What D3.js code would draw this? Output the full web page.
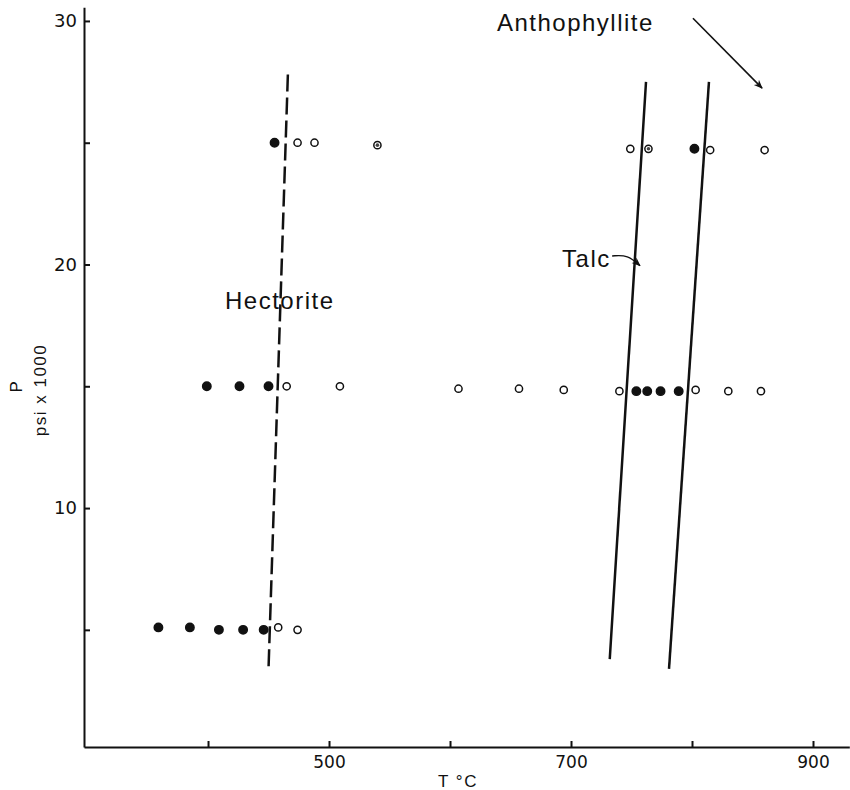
<!DOCTYPE html>
<html>
<head>
<meta charset="utf-8">
<script src="https://cdn.jsdelivr.net/npm/d3@7"></script>
<style>
  body { margin: 0; background: #fff; }
  svg { display: block; }
  .tick text { font-family: "DejaVu Sans", sans-serif; fill: #111; }
  .lbl { font-family: "Liberation Sans", Arial, sans-serif; fill: #111; letter-spacing: 1.5px; }
</style>
</head>
<body>
<svg id="chart" width="850" height="790"></svg>
<script>
// axis ticks
const tempTicks = [400, 500, 600, 700, 800, 900];
const tempLabels = [500, 700, 900];
const pTicks = [5, 10, 15, 20, 25, 30];
const pLabels = [10, 20, 30];

// runs: temperature (C), pressure (psi x 1000), result f = reacted, o = not, p = partial
const runT = [455, 474, 488, 540,
              749, 764, 802, 815, 860,
              399, 426, 450, 465, 509, 607, 657, 694,
              740, 754, 763, 774, 789, 803, 830, 857,
              359, 385, 409, 429, 446, 458, 474];
const runP = [25.0, 25.0, 25.0, 24.9,
              24.75, 24.75, 24.75, 24.7, 24.7,
              15.0, 15.0, 15.0, 15.0, 15.0, 14.9, 14.9, 14.85,
              14.8, 14.8, 14.8, 14.8, 14.8, 14.85, 14.8, 14.8,
              5.1, 5.1, 5.0, 5.0, 5.0, 5.1, 5.0];
const runResult = ['f', 'o', 'o', 'p',
                   'o', 'p', 'f', 'o', 'o',
                   'f', 'f', 'f', 'o', 'o', 'o', 'o', 'o',
                   'o', 'f', 'f', 'f', 'f', 'o', 'o', 'o',
                   'f', 'f', 'f', 'f', 'f', 'o', 'o'];

// boundary curves
const hectoriteT = [466, 450];
const hectoriteP = [27.8, 3.4];
const talc1T = [762, 732];
const talc1P = [27.5, 3.8];
const talc2T = [814, 781];
const talc2P = [27.5, 3.4];

const svg = d3.select("#chart");
const x = d3.scaleLinear().domain([297.5, 930]).range([84, 849.3]);
const y = d3.scaleLinear().domain([0.19, 30.56]).range([747, 7.3]);

svg.append("defs").append("marker")
  .attr("id", "head")
  .attr("viewBox", "0 0 10 10")
  .attr("refX", 9).attr("refY", 5)
  .attr("markerWidth", 9).attr("markerHeight", 9)
  .attr("markerUnits", "userSpaceOnUse")
  .attr("orient", "auto")
  .append("path").attr("d", "M0,1 L10,5 L0,9 L3,5 Z").attr("fill", "#111");

// axes
const xAxis = d3.axisBottom(x)
  .tickValues(tempTicks)
  .tickSizeInner(-6).tickSizeOuter(0).tickPadding(9)
  .tickFormat(d => tempLabels.includes(d) ? d : "");
svg.append("g")
  .attr("transform", `translate(0,${y(0.19)})`)
  .call(xAxis)
  .call(g => g.selectAll("path, line").attr("stroke", "#111").attr("stroke-width", 2))
  .call(g => g.selectAll("text").attr("font-size", 17));

const yAxis = d3.axisLeft(y)
  .tickValues(pTicks)
  .tickSizeInner(-6).tickSizeOuter(0).tickPadding(7)
  .tickFormat(d => pLabels.includes(d) ? d : "");
svg.append("g")
  .attr("transform", `translate(${x(297.5)},0)`)
  .call(yAxis)
  .call(g => g.selectAll("path, line").attr("stroke", "#111").attr("stroke-width", 2))
  .call(g => g.selectAll("text").attr("font-size", 18));

// axis titles
svg.append("text").attr("class", "lbl")
  .attr("x", 458).attr("y", 787)
  .attr("text-anchor", "middle").attr("font-size", 17)
  .attr("letter-spacing", "3px")
  .text("T °C");
svg.append("text").attr("class", "lbl")
  .attr("transform", "translate(22,386) rotate(-90)")
  .attr("text-anchor", "middle").attr("font-size", 17)
  .text("P");
svg.append("text").attr("class", "lbl")
  .attr("transform", "translate(46,390) rotate(-90)")
  .attr("text-anchor", "middle").attr("font-size", 17)
  .attr("letter-spacing", "2.5px")
  .text("psi x 1000");

// boundaries
const line = d3.line().x(d => x(d[0])).y(d => y(d[1]));
svg.append("path")
  .attr("d", line(d3.zip(hectoriteT, hectoriteP)))
  .attr("fill", "none").attr("stroke", "#111").attr("stroke-width", 2.5)
  .attr("stroke-dasharray", "17,6");
[[talc1T, talc1P], [talc2T, talc2P]].forEach(([t, p]) => {
  svg.append("path")
    .attr("d", line(d3.zip(t, p)))
    .attr("fill", "none").attr("stroke", "#111").attr("stroke-width", 2.5);
});

// runs
const runs = runT.map((t, i) => ({ t, p: runP[i], r: runResult[i] }));
const pts = svg.append("g").selectAll("g").data(runs).join("g")
  .attr("transform", d => `translate(${x(d.t)},${y(d.p)})`);
pts.append("circle")
  .attr("r", d => d.r === "f" ? 4.2 : 3.6)
  .attr("fill", d => d.r === "f" ? "#111" : "#fff")
  .attr("stroke", "#111").attr("stroke-width", 1.5);
pts.filter(d => d.r === "p").append("circle")
  .attr("r", 1.8).attr("fill", "#444");

// labels and arrows
svg.append("text").attr("class", "lbl")
  .attr("x", x(638.8)).attr("y", y(29.58)).attr("font-size", 24)
  .text("Anthophyllite");
svg.append("text").attr("class", "lbl")
  .attr("x", x(414)).attr("y", y(18.16)).attr("font-size", 24)
  .text("Hectorite");
svg.append("text").attr("class", "lbl")
  .attr("x", x(692.6)).attr("y", y(19.89)).attr("font-size", 24)
  .text("Talc");

svg.append("path")
  .attr("d", line([[800.8, 30.11], [857.9, 27.24]]))
  .attr("fill", "none").attr("stroke", "#111").attr("stroke-width", 1.6)
  .attr("marker-end", "url(#head)");
svg.append("path")
  .attr("d", d3.line().x(d => x(d[0])).y(d => y(d[1])).curve(d3.curveBasis)(
    [[734, 20.35], [747, 20.4], [757, 19.95]]))
  .attr("fill", "none").attr("stroke", "#111").attr("stroke-width", 1.4)
  .attr("marker-end", "url(#head)");
</script>
</body>
</html>
